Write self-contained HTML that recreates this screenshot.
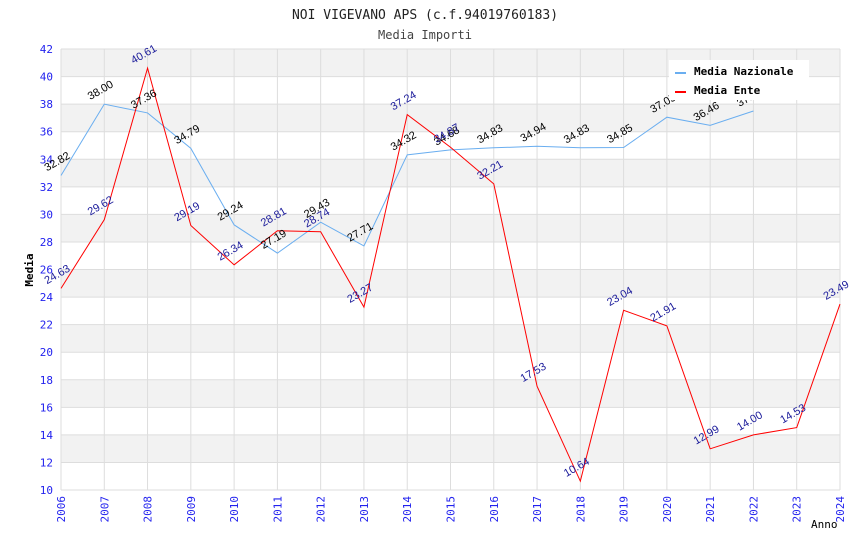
<!DOCTYPE html>
<html><head><meta charset="utf-8"><style>
body{margin:0;background:#fff;font-family:"DejaVu Sans Mono","Liberation Mono",monospace}
</style></head><body>
<svg id="c" width="850" height="550" xmlns="http://www.w3.org/2000/svg">
<text x="425" y="19" text-anchor="middle" font-size="13" fill="#222">NOI VIGEVANO APS (c.f.94019760183)</text>
<text x="425" y="39" text-anchor="middle" font-size="12" fill="#444">Media Importi</text>
<g id="bands"></g><g id="axes"></g><g id="lines"></g><g id="labels"></g>
<text x="33" y="270" transform="rotate(-90 33 270)" text-anchor="middle" font-size="11" font-weight="bold" fill="#000">Media</text>
<text x="811" y="528" font-size="11" fill="#000">Anno</text>
<g>
<rect x="669" y="60" width="140" height="40" fill="#fff"/>
<line x1="675" y1="73" x2="686" y2="73" stroke="#6aaef0" stroke-width="2"/>
<text x="694" y="75" font-size="11" font-weight="bold" fill="#000">Media Nazionale</text>
<line x1="675" y1="92" x2="686" y2="92" stroke="#ff0000" stroke-width="2"/>
<text x="694" y="94" font-size="11" font-weight="bold" fill="#000">Media Ente</text>
</g>
</svg>
<script>
const years=[2006,2007,2008,2009,2010,2011,2012,2013,2014,2015,2016,2017,2018,2019,2020,2021,2022,2023,2024];
const nazionale=[32.82,38.00,37.36,34.79,29.24,27.19,29.43,27.71,34.32,34.68,34.83,34.94,34.83,34.85,37.05,36.46,37.50,null,null];
const ente=[24.63,29.62,40.61,29.19,26.34,28.81,28.74,23.27,37.24,34.87,32.21,17.53,10.64,23.04,21.91,12.99,14.00,14.53,23.49];
const yTicks=[10,12,14,16,18,20,22,24,26,28,30,32,34,36,38,40,42];
const X0=61,X1=840,Y0=490,Y1=49;
const xs=i=>X0+(X1-X0)*i/(years.length-1);
const ys=v=>Y0-(Y0-Y1)*(v-10)/32;
const NS="http://www.w3.org/2000/svg";
function mk(p,t,a){const e=document.createElementNS(NS,t);for(const k in a)e.setAttribute(k,a[k]);document.getElementById(p).appendChild(e);return e;}
for(let i=0;i<yTicks.length-1;i++){
 const r=mk('bands','rect',{x:X0,y:ys(yTicks[i+1]),width:X1-X0,height:ys(yTicks[i])-ys(yTicks[i+1]),fill:(i%2===1)?'#f2f2f2':'#ffffff'});
 
 
}
yTicks.forEach(v=>{
 const l=mk('axes','line',{x1:X0,x2:X1,y1:ys(v),y2:ys(v),stroke:'#ddd'});
 
 
 const t=mk('axes','text',{x:X0-8,y:ys(v)+4,'text-anchor':'end','font-size':11,fill:'#2222ee'});
 t.textContent=v;
 
 
});
years.forEach((y,i)=>{
 const l=mk('axes','line',{x1:xs(i),x2:xs(i),y1:Y1,y2:Y0,stroke:'#ddd'});
 
 
 const t=mk('axes','text',{x:xs(i)+4,y:Y0+6,transform:`rotate(-90 ${xs(i)+4} ${Y0+6})`,'text-anchor':'end','font-size':11,fill:'#2222ee'});
 t.textContent=y;
 
 
});
function series(arr,color,lab,name){
 const pts=[];arr.forEach((v,i)=>{if(v!=null)pts.push(xs(i)+','+ys(v));});
 const p=mk('lines','polyline',{points:pts.join(' '),fill:'none',stroke:color,'stroke-width':1});
 
 
 arr.forEach((v,i)=>{if(v==null)return;
  const x=xs(i)-14,y=ys(v)-4;
  const t=mk('labels','text',{x:x,y:y,transform:`rotate(-30 ${x} ${y})`,'font-size':11,fill:lab,'font-family':'Liberation Sans, sans-serif'});
  t.textContent=v.toFixed(2);
  
  
 });
}
series(nazionale,'#6aaef0','#000','nazionale');
series(ente,'#ff0000','#1a1a9a','ente');
</script>
</body></html>
